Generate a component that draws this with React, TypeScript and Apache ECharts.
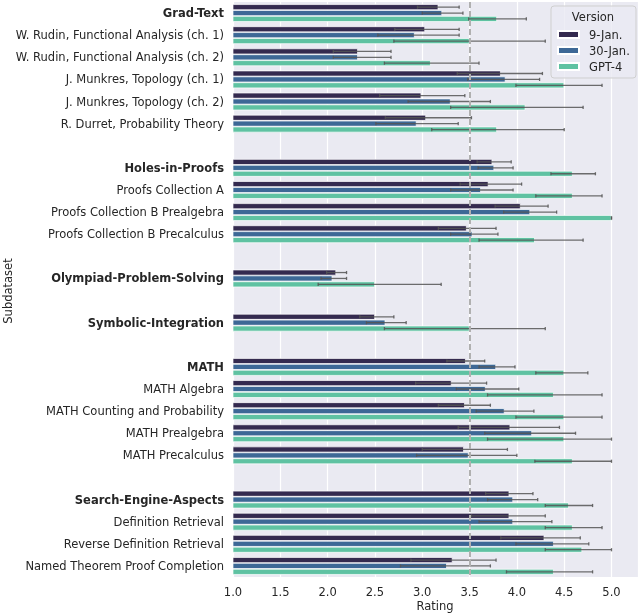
import React, { useEffect, useRef } from "react";
import * as echarts from "echarts";

const categories = [
  "Grad-Text",
  "W. Rudin, Functional Analysis (ch. 1)",
  "W. Rudin, Functional Analysis (ch. 2)",
  "J. Munkres, Topology (ch. 1)",
  "J. Munkres, Topology (ch. 2)",
  "R. Durret, Probability Theory",
  " ",
  "Holes-in-Proofs",
  "Proofs Collection A",
  "Proofs Collection B Prealgebra",
  "Proofs Collection B Precalculus",
  "  ",
  "Olympiad-Problem-Solving",
  "   ",
  "Symbolic-Integration",
  "    ",
  "MATH",
  "MATH Algebra",
  "MATH Counting and Probability",
  "MATH Prealgebra",
  "MATH Precalculus",
  "     ",
  "Search-Engine-Aspects",
  "Definition Retrieval",
  "Reverse Definition Retrieval",
  "Named Theorem Proof Completion",
];

const headers = [
  "Grad-Text",
  "Holes-in-Proofs",
  "Olympiad-Problem-Solving",
  "Symbolic-Integration",
  "MATH",
  "Search-Engine-Aspects",
];

const seriesNames = ["9-Jan.", "30-Jan.", "GPT-4"];
const colors = ["#342a4f", "#3d6896", "#5fc2a2"];

const jan9 = [3.17, 3.03, 2.32, 3.83, 2.99, 3.04, null, 3.74, 3.7, 4.04, 3.47, null, 2.09, null, 2.5, null, 3.46, 3.31, 3.45, 3.93, 3.44, null, 3.92, 3.92, 4.29, 3.32];
const jan9Lo = [2.95, 2.71, 2.06, 3.37, 2.55, 2.61, null, 3.58, 3.4, 3.77, 3.17, null, 1.99, null, 2.34, null, 3.26, 2.93, 3.17, 3.38, 3.0, null, 3.67, 3.52, 3.83, 2.88];
const jan9Hi = [3.39, 3.39, 2.67, 4.27, 3.45, 3.52, null, 3.94, 4.05, 4.33, 3.78, null, 2.2, null, 2.7, null, 3.66, 3.68, 3.72, 4.45, 3.9, null, 4.17, 4.3, 4.67, 3.78];

const jan30 = [3.21, 2.92, 2.32, 3.88, 3.3, 2.94, null, 3.76, 3.62, 4.14, 3.53, null, 2.05, null, 2.61, null, 3.78, 3.67, 3.87, 4.16, 3.49, null, 3.96, 3.96, 4.39, 3.26];
const jan30Lo = [3.0, 2.53, 2.06, 3.48, 2.85, 2.51, null, 3.59, 3.3, 3.86, 3.3, null, 1.93, null, 2.41, null, 3.6, 3.36, 3.57, 3.66, 2.94, null, 3.69, 3.6, 3.99, 2.77];
const jan30Hi = [3.43, 3.39, 2.67, 4.24, 3.72, 3.38, null, 3.96, 3.96, 4.42, 3.8, null, 2.2, null, 2.83, null, 3.98, 4.02, 4.18, 4.62, 4.0, null, 4.22, 4.37, 4.76, 3.72];

const gpt4 = [3.79, 3.5, 3.09, 4.5, 4.09, 3.79, null, 4.59, 4.59, 5.0, 4.19, null, 2.5, null, 3.5, null, 4.5, 4.39, 4.5, 4.5, 4.59, null, 4.55, 4.59, 4.69, 4.39];
const gpt4Lo = [3.49, 2.7, 2.6, 3.99, 3.3, 3.1, null, 4.36, 4.2, 5.0, 3.6, null, 1.9, null, 2.6, null, 4.2, 3.69, 3.99, 3.69, 4.19, null, 4.3, 4.3, 4.3, 3.89];
const gpt4Hi = [4.1, 4.3, 3.6, 4.9, 4.7, 4.5, null, 4.83, 4.9, 5.0, 4.7, null, 3.2, null, 4.3, null, 4.75, 4.9, 4.9, 5.0, 5.0, null, 4.8, 4.9, 5.0, 4.8];

const xTicks = [1.0, 1.5, 2.0, 2.5, 3.0, 3.5, 4.0, 4.5, 5.0];
const referenceLine = 3.5;
const xAxisTitle = "Rating";
const yAxisTitle = "Subdataset";
const legendTitle = "Version";

const FONT = "DejaVu Sans";
const TEXT = "#262626";

export default function App() {
  const ref = useRef<HTMLDivElement>(null);

  useEffect(() => {
    if (!ref.current) return;
    const chart = echarts.init(ref.current, undefined, { renderer: "svg" });

    const means = [jan9, jan30, gpt4];
    const lows = [jan9Lo, jan30Lo, gpt4Lo];
    const highs = [jan9Hi, jan30Hi, gpt4Hi];

    const barSeries = means.map((vals, i) => ({
      name: seriesNames[i],
      type: "bar",
      data: vals.map((v) => (v === null ? "-" : v)),
      barGap: "0%",
      barCategoryGap: "20%",
      itemStyle: { color: colors[i], borderColor: "#ffffff", borderWidth: 0.7 },
      z: 2,
      markLine:
        i === 0
          ? {
              silent: true,
              symbol: "none",
              label: { show: false },
              lineStyle: { type: [6, 3], color: "#b0b0b0", width: 2 },
              data: [{ xAxis: referenceLine }],
              z: 5,
            }
          : undefined,
    }));

    const errSeries = means.map((vals, i) => ({
      name: "err" + i,
      type: "custom",
      z: 3,
      silent: true,
      encode: { x: [1, 2], y: 0 },
      data: vals
        .map((v, k) => (v === null ? null : [k, lows[i][k], highs[i][k]]))
        .filter((d) => d !== null),
      renderItem: (params: any, api: any) => {
        const cat = api.value(0);
        const lo = api.value(1);
        const hi = api.value(2);
        const band = api.size([0, 1])[1];
        const off = (i - 1) * (band * 0.8) / 3;
        const p1 = api.coord([lo, cat]);
        const p2 = api.coord([hi, cat]);
        const y = p1[1] + off;
        const cap = 1.6;
        const style = { stroke: "#555555", lineWidth: 1.3, opacity: 0.85 };
        return {
          type: "group",
          children: [
            { type: "line", shape: { x1: p1[0], y1: y, x2: p2[0], y2: y }, style },
            { type: "line", shape: { x1: p1[0], y1: y - cap, x2: p1[0], y2: y + cap }, style },
            { type: "line", shape: { x1: p2[0], y1: y - cap, x2: p2[0], y2: y + cap }, style },
          ],
        };
      },
    }));

    chart.setOption({
      animation: false,
      textStyle: { fontFamily: FONT },
      grid: {
        left: 233,
        right: 2,
        top: 2,
        bottom: 37,
        containLabel: false,
        outerBoundsMode: "none",
        show: true,
        backgroundColor: "#eaeaf2",
        borderWidth: 0,
      },
      xAxis: {
        type: "value",
        min: 1,
        max: 5.28,
        interval: 0.5,
        axisLine: { show: false },
        axisTick: { show: false },
        splitLine: { show: true, lineStyle: { color: "#ffffff", width: 1.2 } },
        axisLabel: {
          fontSize: 11.5,
          color: TEXT,
          fontFamily: FONT,
          margin: 9,
          showMaxLabel: false,
          formatter: (v: number) => (xTicks.some((t) => Math.abs(t - v) < 1e-6) ? v.toFixed(1) : ""),
        },
      },
      yAxis: {
        type: "category",
        inverse: true,
        data: categories,
        axisLine: { show: false },
        axisTick: { show: false },
        splitLine: { show: false },
        axisLabel: {
          interval: 0,
          fontSize: 11.5,
          color: TEXT,
          fontFamily: FONT,
          margin: 9,
          formatter: (v: string) => (v.trim() === "" ? "" : headers.includes(v) ? "{b|" + v + "}" : v),
          rich: {
            b: { fontWeight: "bold", fontSize: 11.5, color: TEXT, fontFamily: FONT },
          },
        },
      },
      legend: {
        data: seriesNames,
        orient: "vertical",
        left: 552,
        top: 23.5,
        icon: "rect",
        itemWidth: 21,
        itemHeight: 7,
        itemGap: 4,
        z: 11,
        textStyle: { fontSize: 11.5, color: TEXT, fontFamily: FONT, padding: [0, 0, 0, 5] },
      },
      graphic: [
        {
          type: "rect",
          z: 10,
          shape: { x: 551, y: 6, width: 85, height: 72, r: 3 },
          style: { fill: "rgba(234,234,242,0.8)", stroke: "#cfcfcf", lineWidth: 1 },
        },
        {
          type: "text",
          z: 11,
          x: 593,
          y: 17,
          style: {
            text: legendTitle,
            fontSize: 11.5,
            fill: TEXT,
            fontFamily: FONT,
            textAlign: "center",
            textVerticalAlign: "middle",
          },
        },
        {
          type: "text",
          z: 11,
          x: 435,
          y: 606,
          style: {
            text: xAxisTitle,
            fontSize: 11.5,
            fill: TEXT,
            fontFamily: FONT,
            textAlign: "center",
            textVerticalAlign: "middle",
          },
        },
        {
          type: "text",
          z: 11,
          x: 8,
          y: 291,
          rotation: Math.PI / 2,
          style: {
            text: yAxisTitle,
            fontSize: 11.5,
            fill: TEXT,
            fontFamily: FONT,
            textAlign: "center",
            textVerticalAlign: "middle",
          },
        },
      ],
      series: [...barSeries, ...errSeries],
    });

    return () => chart.dispose();
  }, []);

  return (
    <div
      ref={ref}
      style={{ position: "fixed", left: 0, top: 0, width: 640, height: 614 }}
    />
  );
}
